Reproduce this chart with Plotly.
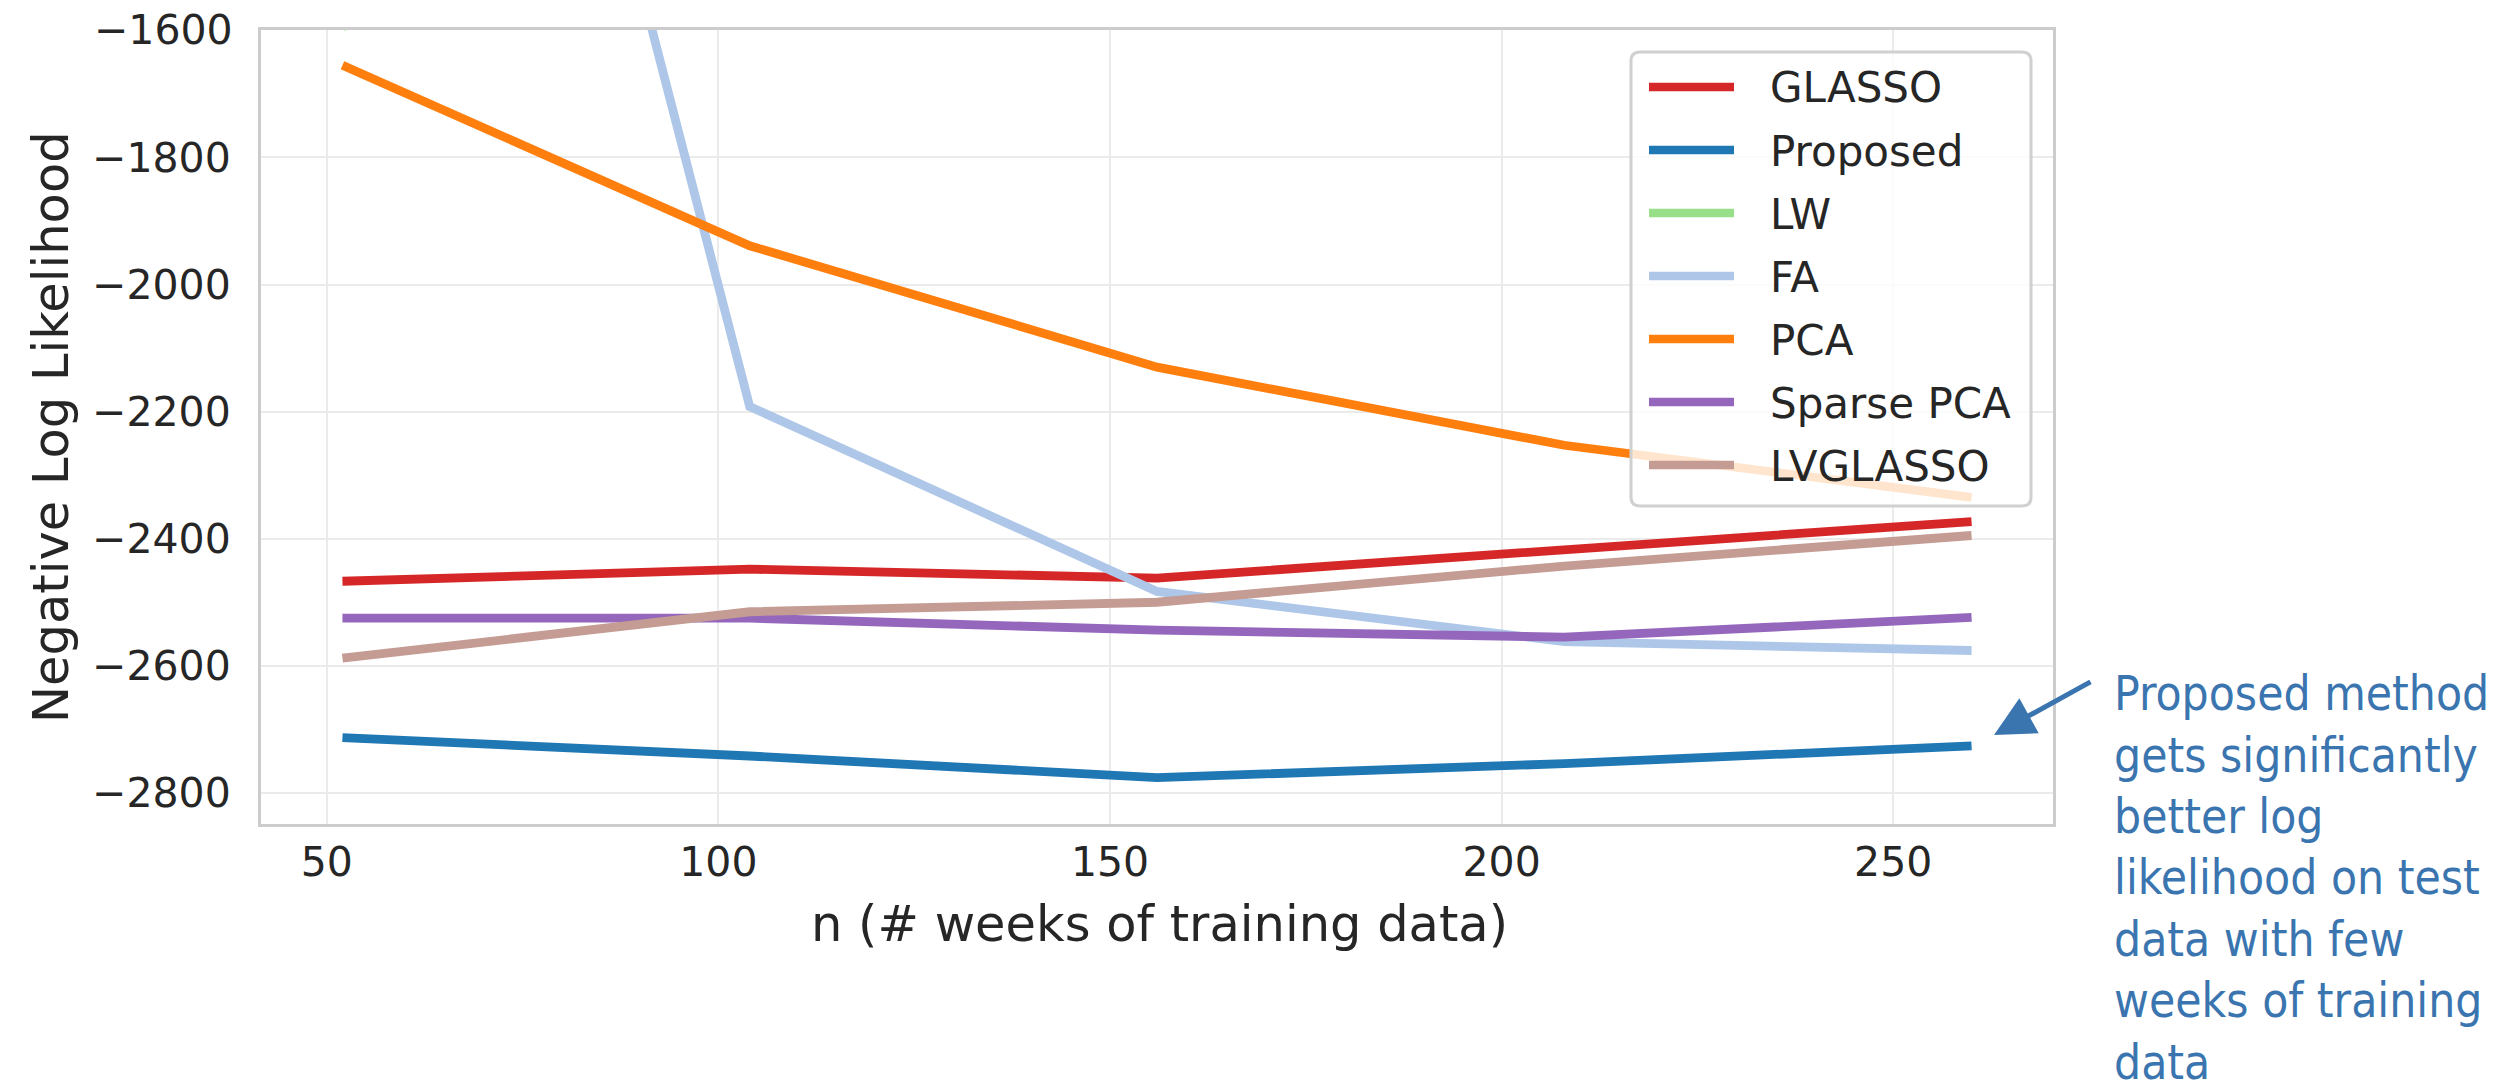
import plotly.graph_objects as go

# ---- data ----
weeks = [52, 104, 156, 208, 260]
glasso = [-2467, -2448, -2462, -2416, -2373]
proposed = [-2713, -2742, -2776, -2754, -2726]
lw = [-1595, -1200, -1050, -960, -900]
fa = [280, -2192, -2483, -2562, -2576]
pca = [-1655, -1939, -2130, -2253, -2335]
sparse_pca = [-2525, -2525, -2544, -2555, -2524]
lvglasso = [-2588, -2515, -2500, -2443, -2395]

series_names = ["GLASSO", "Proposed", "LW", "FA", "PCA", "Sparse PCA", "LVGLASSO"]
series_vals = [glasso, proposed, lw, fa, pca, sparse_pca, lvglasso]
series_colors = ["#d62728", "#1f77b4", "#98df8a", "#aec7e8", "#ff7f0e", "#9467bd", "#c49c94"]

x_ticks = [50, 100, 150, 200, 250]
y_ticks = [-2800, -2600, -2400, -2200, -2000, -1800, -1600]

note_lines = ["Proposed method", "gets significantly", "better log",
              "likelihood on test", "data with few", "weeks of training", "data"]

# ---- layout geometry (pixels) ----
W, H = 2509, 1081
L, R, T, B = 253, 464, 22, 265
PW, PH = W - L - R, H - T - B
Y_TOP = -1599.5


def px(xp):
    return (xp - L) / PW


def py(yp):
    return (H - B - yp) / PH


TXT = "#262626"
FONT = "DejaVu Sans"

fig = go.Figure()
for name, vals, col in zip(series_names, series_vals, series_colors):
    fig.add_trace(go.Scatter(x=weeks, y=vals, mode="lines", name=name,
                             line=dict(color=col, width=8.8),
                             showlegend=False))

fig.update_layout(
    width=W, height=H,
    margin=dict(l=L, r=R, t=T, b=B, autoexpand=False),
    paper_bgcolor="white", plot_bgcolor="white",
    font=dict(family=FONT, color=TXT, size=41),
)
fig.update_xaxes(range=[41.6, 270.4], tickvals=x_ticks, ticks="",
                 showgrid=True, gridcolor="#ebebeb", gridwidth=2,
                 showline=True, linecolor="#cccccc", linewidth=3, mirror=True,
                 zeroline=False, tickfont=dict(size=41, color=TXT),
                 ticklabelstandoff=0)
# ticks strictly inside the range are drawn by the axis; the top edge one is added below
inner_y = [v for v in y_ticks if v < Y_TOP - 1]
fig.update_yaxes(range=[-2849, Y_TOP], tickvals=inner_y,
                 ticktext=[f"\u2212{abs(v)}" for v in inner_y], ticks="",
                 showgrid=True, gridcolor="#ebebeb", gridwidth=2,
                 showline=True, linecolor="#cccccc", linewidth=3, mirror=True,
                 zeroline=False, tickfont=dict(size=41, color=TXT),
                 ticklabelstandoff=19)

annotations = []
for v in y_ticks:
    if v >= Y_TOP - 1:
        annotations.append(dict(text=f"\u2212{abs(v)}", xref="paper", yref="y",
                                x=px(227), y=v, xanchor="right", yanchor="middle",
                                showarrow=False, font=dict(size=41, color=TXT, family=FONT)))

# axis titles
annotations.append(dict(text="n (# weeks of training data)", xref="paper", yref="paper",
                        x=px(1151), y=py(915.5), xanchor="center", yanchor="middle",
                        showarrow=False, font=dict(size=49.5, color=TXT, family=FONT)))
annotations.append(dict(text="Negative Log Likelihood", xref="paper", yref="paper",
                        x=px(43), y=py(419), xanchor="center", yanchor="middle",
                        textangle=-90, showarrow=False,
                        font=dict(size=49.5, color=TXT, family=FONT)))

# manual legend
shapes = []
bx0, by0, bx1, by1 = 1623, 44, 2023, 498
r = 9
rx, ry = r / PW, r / PH
X0, X1, Y0, Y1 = px(bx0), px(bx1), py(by1), py(by0)
path = (f"M {X0+rx},{Y0} L {X1-rx},{Y0} Q {X1},{Y0} {X1},{Y0+ry} "
        f"L {X1},{Y1-ry} Q {X1},{Y1} {X1-rx},{Y1} L {X0+rx},{Y1} "
        f"Q {X0},{Y1} {X0},{Y1-ry} L {X0},{Y0+ry} Q {X0},{Y0} {X0+rx},{Y0} Z")
shapes.append(dict(type="path", path=path, xref="paper", yref="paper",
                   fillcolor="rgba(255,255,255,0.8)",
                   line=dict(color="#d0d0d0", width=3), layer="above"))
for i, (name, col) in enumerate(zip(series_names, series_colors)):
    yc = 79 + 63 * i
    shapes.append(dict(type="line", xref="paper", yref="paper",
                       x0=px(1641), x1=px(1726), y0=py(yc), y1=py(yc),
                       line=dict(color=col, width=8.5), layer="above"))
    annotations.append(dict(text=name, xref="paper", yref="paper",
                            x=px(1760), y=py(yc + 1), xanchor="left", yanchor="middle",
                            showarrow=False, font=dict(size=42, color=TXT, family=FONT)))

# callout arrow + text
ANN_COL = "#3a75b0"
annotations.append(dict(text="", xref="paper", yref="paper",
                        x=px(1986), y=py(727), ax=98, ay=-54,
                        showarrow=True, arrowhead=2, arrowsize=1.6, arrowwidth=5,
                        arrowcolor=ANN_COL, standoff=0, startstandoff=0))
NOTE_SIZE = 47.5
for i, line in enumerate(note_lines):
    baseline = 702.3 + 61.4 * i
    annotations.append(dict(text=line, xref="paper", yref="paper",
                            x=px(2104), y=py(baseline - 0.35 * NOTE_SIZE),
                            xanchor="left", yanchor="middle", align="left",
                            showarrow=False,
                            font=dict(size=NOTE_SIZE, color=ANN_COL,
                                      family="DejaVu Sans Condensed, Liberation Sans, sans-serif")))

fig.update_layout(shapes=shapes, annotations=annotations)
fig.write_html("out.html")
